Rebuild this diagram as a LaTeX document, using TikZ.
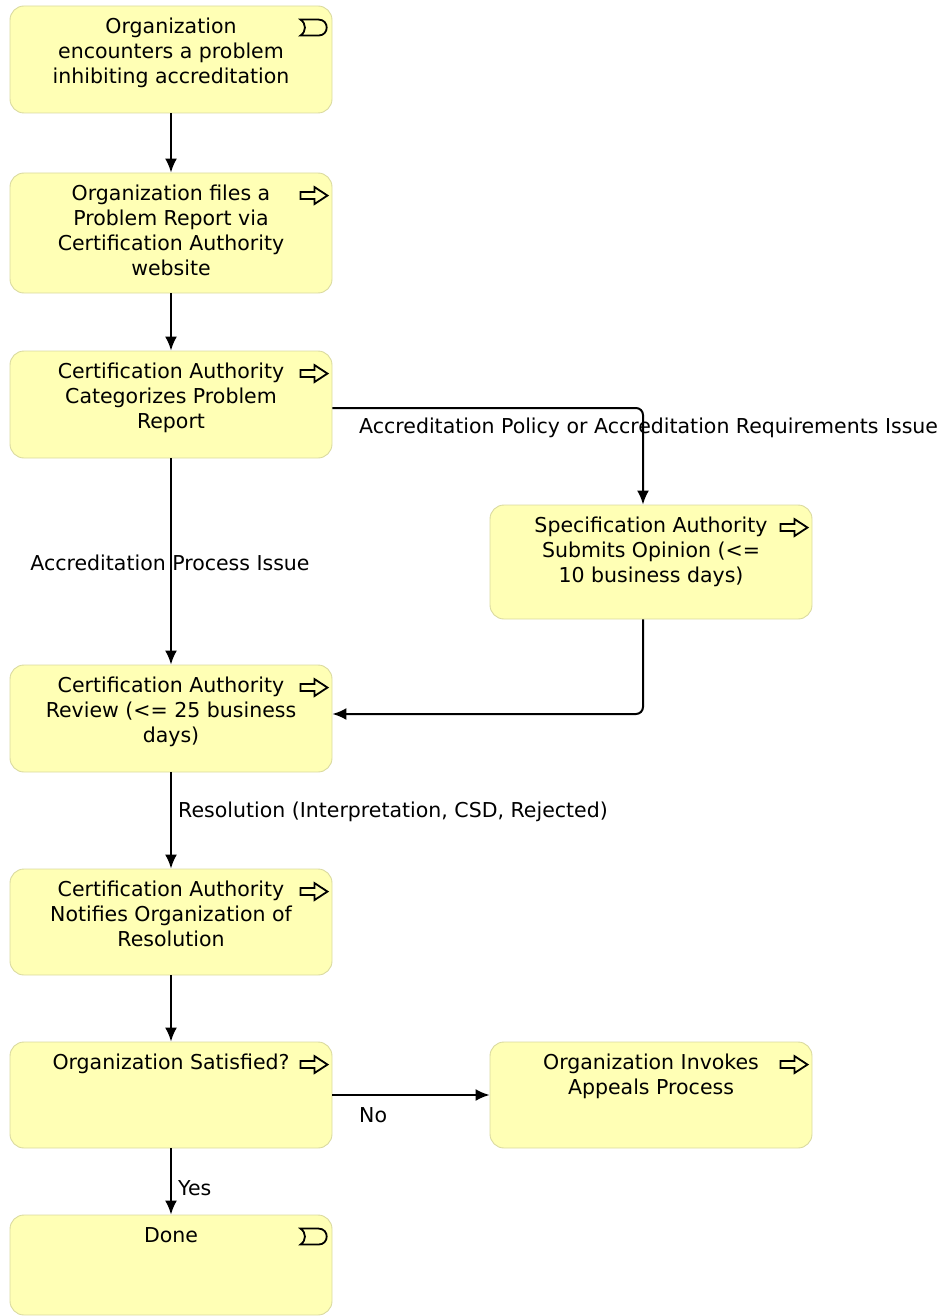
\documentclass[tikz,border=0pt]{standalone}
\usepackage{fontspec}
\setmainfont{DejaVu Sans}
\usetikzlibrary{arrows.meta}

\begin{document}
\begin{tikzpicture}[x=1pt, y=-1pt,
    task/.style={rectangle, rounded corners=14pt, draw={rgb,255:red,218;green,218;blue,160},
        fill={rgb,255:red,255;green,255;blue,181}, line width=0.9pt,
        minimum width=322pt, inner sep=0pt},
    tasktext/.style={anchor=north, align=center, inner sep=0pt, yshift=-12.5pt,
        font=\fontsize{20.5}{24.8}\selectfont},
    lbl/.style={anchor=west, inner sep=0pt, font=\fontsize{20.5}{24.8}\selectfont},
    flow/.style={draw=black, line width=2pt, -{Latex[length=14pt,width=12pt]}},
    icon/.style={draw=black, line width=1.8pt, line join=miter},
    procicon/.pic={\draw[icon] (-32,19.5) -- (-18,19.5) -- (-18,14.5) -- (-5,23) -- (-18,31.5)
        -- (-18,26.5) -- (-32,26.5) -- cycle;},
    eventicon/.pic={\draw[icon] (-32,14) -- (-14,14) .. controls (-3,14) and (-3,30) .. (-14,30)
        -- (-32,30) .. controls (-26,26) and (-26,18) .. (-32,14) -- cycle;}
]
\useasboundingbox (0,0) rectangle (940,1316);

% boxes
\node [task, minimum height=107pt,
    label={[tasktext]north:{Organization\\encounters a problem\\inhibiting accreditation}}]
    (Encounter) at (171,59.5) {};
\node [task, minimum height=120pt,
    label={[tasktext]north:{Organization files a\\Problem Report via\\Certification Authority\\website}}]
    (Files) at (171,233) {};
\node [task, minimum height=107pt,
    label={[tasktext]north:{Certification Authority\\Categorizes Problem\\Report}}]
    (Categorize) at (171,404.5) {};
\node [task, minimum height=114pt,
    label={[tasktext]north:{Specification Authority\\Submits Opinion (<=\\10 business days)}}]
    (Opinion) at (651,562) {};
\node [task, minimum height=107pt,
    label={[tasktext]north:{Certification Authority\\Review (<= 25 business\\days)}}]
    (Review) at (171,718.5) {};
\node [task, minimum height=106pt,
    label={[tasktext]north:{Certification Authority\\Notifies Organization of\\Resolution}}]
    (Notify) at (171,922) {};
\node [task, minimum height=106pt,
    label={[tasktext]north:{Organization Satisfied?}}]
    (Satisfied) at (171,1095) {};
\node [task, minimum height=106pt,
    label={[tasktext]north:{Organization Invokes\\Appeals Process}}]
    (Appeals) at (651,1095) {};
\node [task, minimum height=100pt,
    label={[tasktext]north:{Done}}]
    (Done) at (171,1265) {};

% icons
\pic at (Encounter.north east) {eventicon};
\pic at (Files.north east) {procicon};
\pic at (Categorize.north east) {procicon};
\pic at (Opinion.north east) {procicon};
\pic at (Review.north east) {procicon};
\pic at (Notify.north east) {procicon};
\pic at (Satisfied.north east) {procicon};
\pic at (Appeals.north east) {procicon};
\pic at (Done.north east) {eventicon};

% edge labels
\node [lbl] (PolicyLbl) at (359,428) {Accreditation Policy or Accreditation Requirements Issue};
\node [lbl, anchor=center] (ProcessLbl) at (170,563) {Accreditation Process Issue};
\node [lbl] (ResolutionLbl) at (178,812) {Resolution (Interpretation, CSD, Rejected)};
\node [lbl] (NoLbl) at (359,1115) {No};
\node [lbl] (YesLbl) at (178,1188) {Yes};

% connectors
\draw [flow] (Encounter) -- (Files);
\draw [flow] (Files) -- (Categorize);
\draw [flow, rounded corners=7pt] ([yshift=-3.5pt]Categorize.east) -| ([xshift=-8pt]Opinion.north);
\draw [flow] (Categorize) -- (Review);
\draw [flow, rounded corners=7pt] ([xshift=-8pt]Opinion.south) |- ([yshift=4.5pt]Review.east);
\draw [flow] (Review) -- (Notify);
\draw [flow] (Notify) -- (Satisfied);
\draw [flow] (Satisfied) -- (Appeals);
\draw [flow] (Satisfied) -- (Done);

\end{tikzpicture}
\end{document}
